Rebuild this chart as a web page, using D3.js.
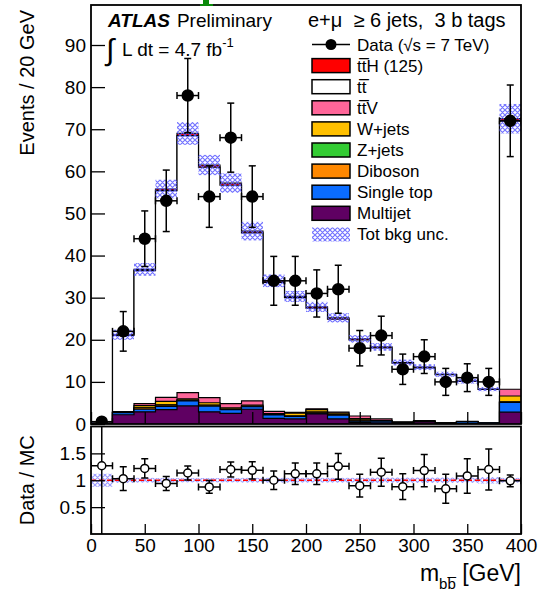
<!DOCTYPE html>
<html>
<head>
<meta charset="utf-8">
<script src="https://cdn.jsdelivr.net/npm/d3@7"></script>
<style>
body { margin: 0; background: #fff; }
svg { font-family: "Liberation Sans", Arial, Helvetica, sans-serif; }
.pre { white-space: pre; }
</style>
</head>
<body>
<div id="chart"></div>
<script>

// bin edges (GeV)
var binEdges = [0,20,40,60,80,100,120,140,160,180,200,220,240,260,280,300,320,340,360,380,400];

// data
var dataVals = [0.55, 22, 44, 53, 78, 54, 68, 54, 34, 34, 31, 32, 18, 21, 13, 16, 10, 11, 10, 72];
var dataErr  = [0.55, 4.7, 6.6, 7.3, 8.8, 7.3, 8.2, 7.3, 5.8, 5.8, 5.6, 5.7, 4.2, 4.6, 3.6, 4.0, 3.2, 3.3, 3.2, 8.5];

// backgrounds (stack, bottom to top)
var multijet  = [0, 2.2, 2.9, 3.4, 4.3, 2.9, 2.5, 3.5, 1.35, 1.2, 2.4, 1.2, 0.4, 0.3, 0.1, 0.5, 0.1, 0.1, 0, 2.8];
var singleTop = [0, 0.5, 0.6, 0.8, 1.2, 1.35, 0.9, 0.6, 0.8, 0.6, 0.2, 0.9, 0.3, 0.4, 0.3, 0.1, 0.1, 0.4, 0.3, 2.3];
var diboson   = [0, 0.05, 0.3, 0.3, 0.1, 0.2, 0.1, 0.1, 0.1, 0.1, 0.2, 0.1, 0.2, 0, 0, 0, 0, 0, 0, 0.1];
var zjets     = [0, 0, 0.05, 0.05, 0.05, 0.05, 0.05, 0, 0, 0, 0, 0, 0, 0, 0, 0, 0, 0, 0, 0.05];
var wjets     = [0, 0.1, 0.5, 0.8, 0.3, 0.55, 0.3, 0.3, 0.2, 0.65, 0.6, 0.4, 0.4, 0.1, 0, 0.1, 0, 0, 0, 1.4];
var ttV       = [0, 0.1, 0.5, 0.95, 1.5, 1.2, 1.0, 1.0, 0.55, 0.2, 0.2, 0.2, 0.6, 0.4, 0.05, 0.1, 0.1, 0.1, 0.05, 1.6];
var ttbar     = [0.43, 18.1, 31.55, 49.1, 61.05, 54.75, 51.85, 39.9, 30.65, 27.25, 23.9, 22.1, 18.05, 16.9, 14.0, 12.55, 11.4, 9.5, 7.85, 63.65];
var ttH       = [0, 0.15, 0.3, 0.4, 0.5, 0.5, 0.5, 0.4, 0.35, 0.3, 0.3, 0.3, 0.25, 0.2, 0.15, 0.15, 0.1, 0.1, 0.1, 0.6];
var mcUnc     = [0.05, 1.2, 1.5, 2.2, 2.7, 2.4, 2.3, 2.2, 1.5, 1.3, 1.2, 1.1, 0.9, 0.9, 0.7, 0.7, 0.6, 0.6, 0.5, 3.5];

// ratio panel
var ratioVals = [1.27, 1.03, 1.22, 0.94, 1.135, 0.876, 1.2, 1.185, 1.0, 1.12, 1.12, 1.26, 0.9, 1.15, 0.88, 1.18, 0.84, 1.08, 1.2, 0.99];
var ratioErr  = [3.0, 0.22, 0.18, 0.13, 0.13, 0.12, 0.14, 0.16, 0.17, 0.2, 0.2, 0.24, 0.21, 0.26, 0.24, 0.3, 0.27, 0.32, 0.38, 0.11];
var ratioUnc  = [0.12, 0.05, 0.045, 0.04, 0.04, 0.04, 0.04, 0.045, 0.045, 0.045, 0.045, 0.045, 0.045, 0.05, 0.05, 0.05, 0.05, 0.05, 0.06, 0.045];

var keys = ["multijet","singleTop","diboson","zjets","wjets","ttV","ttbar","ttH"];
var series = {multijet: multijet, singleTop: singleTop, diboson: diboson, zjets: zjets,
              wjets: wjets, ttV: ttV, ttbar: ttbar, ttH: ttH};
var colors = {multijet: "#5f0062", singleTop: "#0a6cff", diboson: "#ff8800", zjets: "#33cc33",
              wjets: "#ffc000", ttV: "#ff6699", ttbar: "#ffffff", ttH: "#ff0000"};

var legendItems = [
  {label: "tt\u0305H (125)", key: "ttH"},
  {label: "tt\u0305", key: "ttbar"},
  {label: "tt\u0305V", key: "ttV"},
  {label: "W+jets", key: "wjets"},
  {label: "Z+jets", key: "zjets"},
  {label: "Diboson", key: "diboson"},
  {label: "Single top", key: "singleTop"},
  {label: "Multijet", key: "multijet"}
];

var width = 538, height = 592;

var x  = d3.scaleLinear().domain([0, 400]).range([91, 521]);
var y  = d3.scaleLinear().domain([0, 99.5]).range([424, 5]);
var yr = d3.scaleLinear().domain([0, 2]).range([534, 426.5]);

var svg = d3.select("#chart").append("svg")
  .attr("width", width).attr("height", height)
  .style("background", "#fff");

var defs = svg.append("defs");
var pat = defs.append("pattern").attr("id", "hatch")
  .attr("patternUnits", "userSpaceOnUse").attr("width", 5).attr("height", 5);
pat.append("path").attr("d", "M0,0L5,5M5,0L0,5M-1,4L1,6M4,-1L6,1")
  .attr("stroke", "#5a5aff").attr("stroke-width", 1.2);

defs.append("clipPath").attr("id", "clipMain").append("rect")
  .attr("x", x(0)).attr("y", y(99.5)).attr("width", x(400) - x(0)).attr("height", y(0) - y(99.5));
defs.append("clipPath").attr("id", "clipRatio").append("rect")
  .attr("x", x(0)).attr("y", yr(2)).attr("width", x(400) - x(0)).attr("height", yr(0) - yr(2));

// rows for d3.stack
var rows = dataVals.map(function(d, i) {
  var r = {i: i};
  keys.forEach(function(k) { r[k] = series[k][i]; });
  return r;
});
var stacked = d3.stack().keys(keys)(rows);

// step path helpers
function stepPoints(vals) {
  var pts = [];
  vals.forEach(function(v, i) {
    pts.push([binEdges[i], v]);
    pts.push([binEdges[i + 1], v]);
  });
  return pts;
}
var stepArea = d3.area().x(function(d) { return x(d[0]); }).y0(y(0)).y1(function(d) { return y(d[1]); });
var stepLine = d3.line().x(function(d) { return x(d[0]); }).y(function(d) { return y(d[1]); });

var main = svg.append("g").attr("clip-path", "url(#clipMain)");

// draw cumulative hists from top down, ROOT style
stacked.slice().reverse().forEach(function(layer) {
  var cum = layer.map(function(d) { return d[1]; });
  var pts = stepPoints(cum);
  main.append("path").attr("d", stepArea(pts)).attr("fill", colors[layer.key]);
  main.append("path").attr("d", stepLine(pts)).attr("fill", "none")
    .attr("stroke", "#000").attr("stroke-width", 1.2);
});

// total uncertainty band
var totals = stacked[stacked.length - 1].map(function(d) { return d[1]; });
main.selectAll("rect.unc").data(totals).enter().append("rect")
  .attr("class", "unc")
  .attr("x", function(d, i) { return x(binEdges[i]); })
  .attr("width", function(d, i) { return x(binEdges[i + 1]) - x(binEdges[i]); })
  .attr("y", function(d, i) { return y(d + mcUnc[i]); })
  .attr("height", function(d, i) { return y(d - mcUnc[i]) - y(d + mcUnc[i]); })
  .attr("fill", "url(#hatch)").attr("opacity", 0.85);

// error bars with caps
function drawPoints(g, vals, errs, ys, r, filled) {
  var cap = 3.5;
  vals.forEach(function(v, i) {
    var xc = x((binEdges[i] + binEdges[i + 1]) / 2);
    var xl = x(binEdges[i]), xh = x(binEdges[i + 1]);
    var yc = ys(v), yt = ys(v + errs[i]), yb = ys(v - errs[i]);
    var e = g.append("g").attr("stroke", "#000").attr("stroke-width", 1.5);
    e.append("line").attr("x1", xl).attr("x2", xh).attr("y1", yc).attr("y2", yc);
    e.append("line").attr("x1", xl).attr("x2", xl).attr("y1", yc - cap).attr("y2", yc + cap);
    e.append("line").attr("x1", xh).attr("x2", xh).attr("y1", yc - cap).attr("y2", yc + cap);
    e.append("line").attr("x1", xc).attr("x2", xc).attr("y1", yt).attr("y2", yb);
    e.append("line").attr("x1", xc - cap).attr("x2", xc + cap).attr("y1", yt).attr("y2", yt);
    e.append("line").attr("x1", xc - cap).attr("x2", xc + cap).attr("y1", yb).attr("y2", yb);
    g.append("circle").attr("cx", xc).attr("cy", yc).attr("r", r)
      .attr("fill", filled ? "#000" : "#fff").attr("stroke", "#000").attr("stroke-width", 1.5);
  });
}
drawPoints(main, dataVals, dataErr, y, 5.5, true);

// main axes: ticks inside
var gy = svg.append("g").attr("transform", "translate(" + x(0) + ",0)");
gy.call(d3.axisLeft(y).tickValues(d3.range(0, 99, 2)).tickSizeInner(-7).tickSizeOuter(0).tickFormat(""));
gy.call(d3.axisLeft(y).tickValues(d3.range(0, 91, 10)).tickSizeInner(-14).tickSizeOuter(0).tickPadding(5));
gy.selectAll(".tick text").style("font-size", "19px").attr("fill", "#000");

var gx = svg.append("g").attr("transform", "translate(0," + y(0) + ")");
gx.call(d3.axisBottom(x).tickValues(d3.range(0, 401, 10)).tickSizeInner(-6).tickSizeOuter(0).tickFormat(""));
gx.call(d3.axisBottom(x).tickValues(d3.range(0, 401, 50)).tickSizeInner(-12).tickSizeOuter(0).tickFormat(""));

svg.selectAll(".domain").remove();
svg.selectAll(".tick line").attr("stroke", "#000").attr("stroke-width", 1.3);

svg.append("rect").attr("x", x(0)).attr("y", y(99.5)).attr("width", x(400) - x(0))
  .attr("height", y(0) - y(99.5)).attr("fill", "none").attr("stroke", "#000").attr("stroke-width", 1.8);

// ratio panel
var rat = svg.append("g").attr("clip-path", "url(#clipRatio)");
rat.selectAll("rect.runc").data(ratioUnc).enter().append("rect")
  .attr("x", function(d, i) { return x(binEdges[i]); })
  .attr("width", function(d, i) { return x(binEdges[i + 1]) - x(binEdges[i]); })
  .attr("y", function(d) { return yr(1 + d); })
  .attr("height", function(d) { return yr(1 - d) - yr(1 + d); })
  .attr("fill", "url(#hatch)").attr("opacity", 0.6);
rat.append("line").attr("x1", x(0)).attr("x2", x(400)).attr("y1", yr(1)).attr("y2", yr(1))
  .attr("stroke", "#ff0000").attr("stroke-width", 1.6).attr("stroke-dasharray", "5,3");
drawPoints(rat, ratioVals, ratioErr, yr, 4, false);

var gry = svg.append("g").attr("transform", "translate(" + x(0) + ",0)");
gry.call(d3.axisLeft(yr).tickValues(d3.range(0.1, 2, 0.1)).tickSizeInner(-6).tickSizeOuter(0).tickFormat(""));
gry.call(d3.axisLeft(yr).tickValues([0.5, 1, 1.5]).tickSizeInner(-14).tickSizeOuter(0).tickPadding(5)
  .tickFormat(function(d) { return d; }));
gry.selectAll(".tick text").style("font-size", "19px").attr("fill", "#000");

var grx = svg.append("g").attr("transform", "translate(0," + yr(0) + ")");
grx.call(d3.axisBottom(x).tickValues(d3.range(0, 401, 10)).tickSizeInner(-5).tickSizeOuter(0).tickFormat(""));
grx.call(d3.axisBottom(x).tickValues(d3.range(0, 401, 50)).tickSizeInner(-10).tickSizeOuter(0).tickPadding(5));
grx.selectAll(".tick text").style("font-size", "19px").attr("fill", "#000");

svg.selectAll(".domain").remove();
svg.selectAll(".tick line").attr("stroke", "#000").attr("stroke-width", 1.3);

svg.append("rect").attr("x", x(0)).attr("y", yr(2)).attr("width", x(400) - x(0))
  .attr("height", yr(0) - yr(2)).attr("fill", "none").attr("stroke", "#000").attr("stroke-width", 1.8);

// axis titles
svg.append("text").attr("transform", "translate(34,10) rotate(-90)")
  .attr("text-anchor", "end").style("font-size", "20px").text("Events / 20 GeV");
svg.append("text").attr("transform", "translate(34," + yr(1) + ") rotate(-90)")
  .attr("text-anchor", "middle").style("font-size", "20px").text("Data / MC");

var xt = svg.append("text").attr("x", 521).attr("y", 581).attr("text-anchor", "end").style("font-size", "23px");
xt.append("tspan").text("m");
xt.append("tspan").attr("dy", 8).style("font-size", "15px").text("bb\u0305");
xt.append("tspan").attr("dy", -8).attr("class", "pre").text(" [GeV]");

// ATLAS label
var at = svg.append("text").attr("x", 108).attr("y", 27).style("font-size", "19px");
at.append("tspan").style("font-weight", "bold").style("font-style", "italic").text("ATLAS");
at.append("tspan").attr("dx", 7).text("Preliminary");

svg.append("text").attr("x", 106).attr("y", 60).style("font-size", "30px").text("\u222B");
var lumi = svg.append("text").attr("x", 122).attr("y", 56).style("font-size", "19px").attr("class", "pre");
lumi.append("tspan").text("L dt = 4.7 fb");
lumi.append("tspan").attr("dy", -9).style("font-size", "13px").text("-1");

// legend
svg.append("text").attr("x", 308).attr("y", 27).attr("class", "pre").style("font-size", "20px")
  .text("e+\u03BC  \u2265 6 jets,  3 b tags");

var legY0 = 44.5, legDy = 21.1, boxX = 312, boxW = 38, boxH = 14, textX = 357;
var dl = svg.append("g");
dl.append("line").attr("x1", boxX).attr("x2", boxX + boxW).attr("y1", legY0).attr("y2", legY0)
  .attr("stroke", "#000").attr("stroke-width", 1.5);
dl.append("circle").attr("cx", boxX + boxW / 2).attr("cy", legY0).attr("r", 5.5).attr("fill", "#000");
dl.append("text").attr("x", textX).attr("y", legY0 + 6).style("font-size", "17px").text("Data (\u221As = 7 TeV)");

var leg = svg.selectAll("g.leg").data(legendItems).enter().append("g").attr("class", "leg")
  .attr("transform", function(d, i) { return "translate(0," + (legY0 + legDy * (i + 1)) + ")"; });
leg.append("rect").attr("x", boxX).attr("y", -boxH / 2).attr("width", boxW).attr("height", boxH)
  .attr("fill", function(d) { return colors[d.key]; }).attr("stroke", "#000").attr("stroke-width", 1.5);
leg.append("text").attr("x", textX).attr("y", 6).style("font-size", "17px").text(function(d) { return d.label; });

var ly = legY0 + legDy * (legendItems.length + 1);
svg.append("rect").attr("x", boxX).attr("y", ly - boxH / 2).attr("width", boxW).attr("height", boxH)
  .attr("fill", "url(#hatch)").attr("opacity", 0.85);
svg.append("text").attr("x", textX).attr("y", ly + 6).style("font-size", "17px").text("Tot bkg unc.");

// small green mark at the top edge
svg.append("path").attr("d", "M203,0H209V4H213V6H200V4H203Z").attr("fill", "#0a8a0a");

</script>
</body>
</html>
